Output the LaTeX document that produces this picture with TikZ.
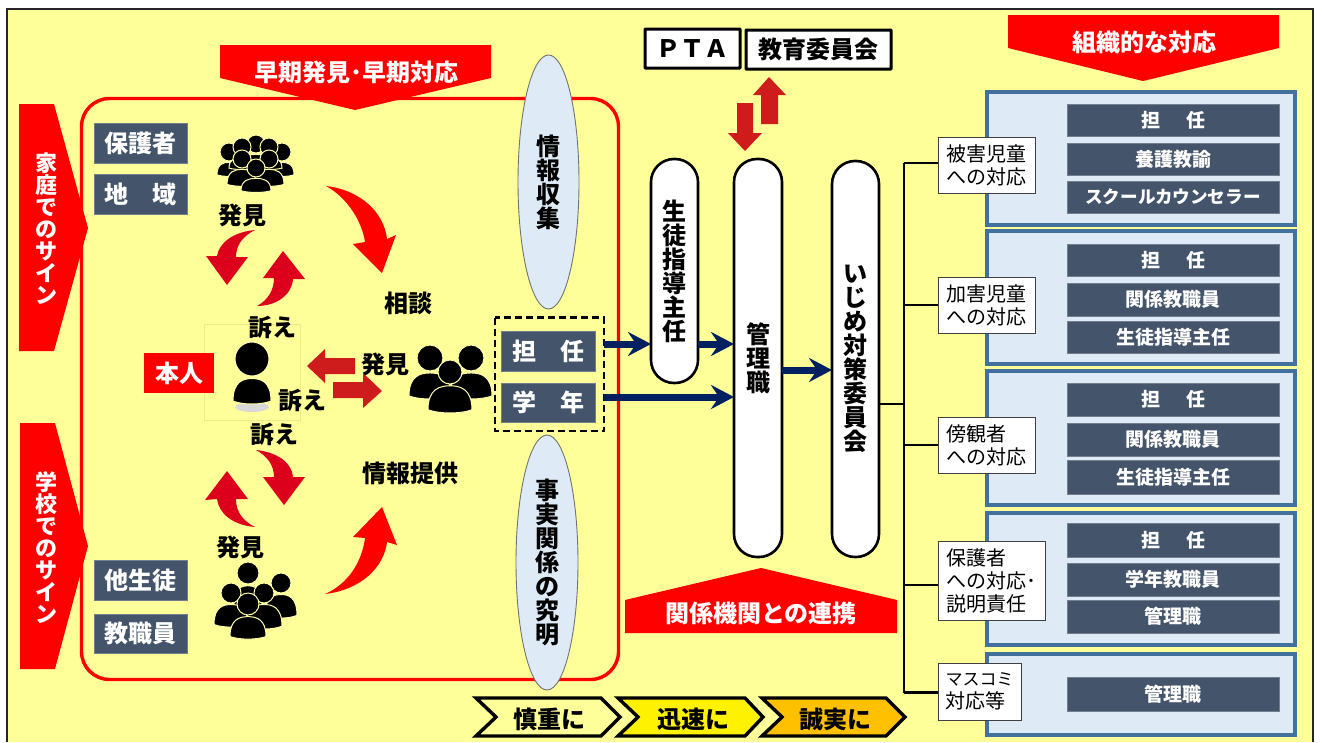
\documentclass[tikz,border=0pt]{standalone}
\usepackage{fontspec}
\setmainfont{Noto Sans CJK JP}
\usetikzlibrary{shapes.geometric,arrows.meta}
\definecolor{bgy}{HTML}{FFFF99}
\definecolor{slate}{HTML}{44546A}
\definecolor{pale}{HTML}{DEEBF7}
\definecolor{panelb}{HTML}{41719C}
\definecolor{navyb}{HTML}{002060}
\definecolor{crim}{HTML}{DC001C}
\definecolor{brick}{HTML}{CE1C1C}
\definecolor{amber}{HTML}{FFC000}
\newcommand{\fs}[1]{\fontsize{#1}{#1}\selectfont}
\newcommand{\bx}[7]{\pgfmathsetmacro\bxw{#5-#3}\pgfmathsetmacro\bxh{#6-#4}\pgfmathsetmacro\bxx{(#3+#5)/2}\pgfmathsetmacro\bxy{(#4+#6)/2}\node[#1,minimum width=\bxw pt,minimum height=\bxh pt] (#2) at (\bxx,\bxy) {#7};}
\newcommand{\bxs}[7]{\bx{#1}{#2}{#3}{#4}{#5}{#6}{\raisebox{-1.2pt}{#7}}}
\newcommand{\psn}[5]{%
 \pgfmathsetmacro\pt{#2+1.15*#3}\pgfmathsetmacro\pH{#5-\pt}%
 \draw[psnst] ({#1-#4},{#5-.15*\pH}) .. controls ({#1-#4},{\pt+.1*\pH}) and ({#1-.45*#4},\pt) .. (#1,\pt) .. controls ({#1+.45*#4},\pt) and ({#1+#4},{\pt+.1*\pH}) .. ({#1+#4},{#5-.15*\pH}) .. controls ({#1+.5*#4},#5) and ({#1-.5*#4},#5) .. cycle;
 \draw[psnst] (#1,#2) circle (#3pt);}
\tikzset{
 x=1pt,y=-1pt,
 every node/.style={inner sep=0pt,outer sep=0pt,align=center},
 slatebox/.style={fill=slate,draw=slate!75!white,line width=.6pt,text=white,font=\bfseries\fs{24}},
 innerbox/.style={fill=slate,draw=slate!75!white,line width=.6pt,text=white,font=\bfseries\fs{19}},
 panel/.style={fill=pale,draw=panelb,line width=3.6pt},
 lab/.style={fill=white,draw=black!75,line width=.8pt,font=\fs{20},align=left},
 pillb/.style={fill=white,draw=black,line width=2.6pt,rounded corners=23pt,font=\bfseries\fs{24}},
 ovalb/.style={ellipse,fill=pale,draw=black!55,line width=.9pt,font=\bfseries\fs{24}},
 tagb/.style={fill=white,draw=black,line width=3pt,rounded corners=.5pt,font=\bfseries\fs{24}},
 redf/.style={fill=red,draw=none},
 wht/.style={text=white,font=\bfseries\fs{24}},
 blk/.style={text=black,font=\bfseries\fs{24}},
 chev/.style={draw=black,line width=3.4pt,miter limit=8},
 chevt/.style={text=black,font=\bfseries\fs{24}},
 navyarr/.style={draw=navyb,line width=7pt,-{Stealth[length=23pt,width=24pt,inset=8pt]}},
 busl/.style={draw=black,line width=2.7pt},
 psnst/.style={fill=black,draw=bgy!80!white,line width=1pt},
}
\begin{document}
\begin{tikzpicture}
\useasboundingbox (0,0) rectangle (1322,742);
\fill[white] (0,0) rectangle (1322,742);
\fill[bgy] (7,9) rectangle (1313,742);
\draw[black!85,line width=1.4pt] (7,742) -- (7,9) -- (1313,9) -- (1313,742);

% big red frame
\draw[red,line width=3.4pt,rounded corners=28pt] (81.5,98.5) rectangle (618.5,679.5);

% left signs
\path[redf] (19,104) -- (54,104) -- (88,228) -- (54,351) -- (19,351) -- cycle;
\path[redf] (20,423) -- (55,423) -- (88,546) -- (55,669) -- (20,669) -- cycle;
\node[text=white,font=\bfseries\fs{22}] (signhome) at (46,229) {家\\庭\\で\\の\\サ\\イ\\ン};
\node[text=white,font=\bfseries\fs{22}] (signschool) at (46,548) {学\\校\\で\\の\\サ\\イ\\ン};

% top banner
\path[redf] (220,45) -- (491,45) -- (491,78) -- (355,110) -- (220,78) -- cycle;
\node[wht] (early) at (356,72) {早期発見･早期対応};

% grey boxes left
\bxs{slatebox}{parents}{94}{123}{187}{163}{保護者}
\bxs{slatebox}{region}{94}{174}{187}{214}{地\hspace{24pt}域}
\bxs{slatebox}{peers}{94}{560}{187}{600}{他生徒}
\bxs{slatebox}{staff}{94}{614}{187}{653}{教職員}

% people: top crowd
\psn{256}{144}{9}{13}{165}
\psn{229}{152}{9}{12}{177}
\psn{282}{152}{9}{12}{177}
\psn{242}{147}{9}{13}{170}
\psn{269}{147}{9}{13}{170}
\psn{242}{159}{9}{15}{187}
\psn{269}{159}{9}{15}{187}
\psn{256}{168}{9}{15}{193}
% bottom crowd
\psn{248}{573}{11}{14}{610}
\psn{281}{583}{10}{16}{619}
\psn{231}{593}{10}{17}{628}
\psn{264}{593}{10}{18}{630}
\psn{248}{604}{11}{18}{640}
% right trio
\psn{430}{358}{13}{21}{400}
\psn{471}{358}{13}{21}{400}
\psn{450}{372}{12}{22}{414}
% self
\draw[black!8!bgy,line width=.6pt] (204,324) rectangle (300,420);
\fill[black!15] (252,407) ellipse (17pt and 5pt);
\psn{252}{359}{17}{19}{405}
\bxs{fill=red,text=white,font=\bfseries\fs{24}}{self}{144}{353}{214}{393}{本人}

% curved arrows
\fill[red] (326,186) .. controls (360,190) and (384,212) .. (387,239) -- (396,235) -- (382,273) -- (353,244) -- (365,242) .. controls (362,222) and (348,198) .. cycle;
\fill[red] (325,594) .. controls (360,590) and (384,568) .. (387,542) -- (397,545) -- (382,507) -- (353,537) -- (365,538) .. controls (362,562) and (348,584) .. cycle;
\fill[crim] (255,230) .. controls (233,232) and (219,243) .. (217,256) -- (206,256) -- (227,285) -- (248,257) -- (236,257) .. controls (236,245) and (243,236) .. cycle;
\fill[crim] (257,306) .. controls (268,300) and (274,290) .. (274,278) -- (263,278) -- (283,251) -- (305,279) -- (293,279) .. controls (292,295) and (276,306) .. cycle;
\fill[crim] (256,450) .. controls (276,452) and (292,462) .. (293,477) -- (305,477) -- (284,505) -- (263,477) -- (274,477) .. controls (274,465) and (267,456) .. cycle;
\fill[crim] (255,527) .. controls (233,525) and (219,514) .. (217,499) -- (205,500) -- (227,471) -- (248,499) -- (236,499) .. controls (236,512) and (243,521) .. cycle;

% straight red arrows
\fill[brick] (307,366) -- (325,349) -- (325,358) -- (355,358) -- (355,374) -- (325,374) -- (325,383) -- cycle;
\fill[brick] (382,391) -- (363,373) -- (363,382) -- (333,382) -- (333,398) -- (363,398) -- (363,408) -- cycle;
\fill[brick] (769,77) -- (786,95) -- (778,95) -- (778,124) -- (761,124) -- (761,95) -- (753,95) -- cycle;
\fill[brick] (745,151) -- (762,133) -- (753,133) -- (753,103) -- (737,103) -- (737,133) -- (728,133) -- cycle;

% texts
\node[blk] (find1) at (242,215) {発見};
\node[blk] (appeal1) at (272,327) {訴え};
\node[blk] (consult) at (408,303) {相談};
\node[blk] (find2) at (385,364) {発見};
\node[blk] (appeal2) at (302,400) {訴え};
\node[blk] (appeal3) at (274,434) {訴え};
\node[blk] (inform) at (410,473) {情報提供};
\node[blk] (find3) at (240,547) {発見};

% ovals
\bx{ovalb}{collect}{518}{55}{579}{309}{情\\報\\収\\集}
\bx{ovalb}{facts}{516}{435}{578}{690}{事\\実\\関\\係\\の\\究\\明}

% dashed group
\draw[black,line width=2.6pt,dash pattern=on 7pt off 4pt] (495,317.5) rectangle (604,431);
\coordinate (dashr) at (604,374);
\bxs{slatebox}{tannin}{501}{331}{595}{371}{担\hspace{24pt}任}
\bxs{slatebox}{grade}{501}{383}{595}{422}{学\hspace{24pt}年}

% pills
\bx{pillb}{seito}{651}{159}{698}{383}{生\\徒\\指\\導\\主\\任}
\bx{pillb}{kanri}{734}{159}{782}{557}{管\\理\\職}
\bx{pillb}{ijime}{832}{161}{879}{557}{い\\じ\\め\\対\\策\\委\\員\\会}

% navy connectors
\coordinate (ya) at (0,344);
\coordinate (yb) at (0,397);
\coordinate (yc) at (0,370);
\draw[navyarr] (dashr |- ya) -- (seito.west |- ya);
\draw[navyarr] (seito.east |- ya) -- (kanri.west |- ya);
\draw[navyarr] (dashr |- yb) -- (kanri.west |- yb);
\draw[navyarr] (kanri.east |- yc) -- (ijime.west |- yc);

% top tags
\bxs{tagb}{pta}{645}{29}{740}{68}{ＰＴＡ}
\bxs{tagb}{board}{746}{30}{891}{69}{教育委員会}

% bottom banner
\path[redf] (625,633) -- (625,600) -- (761,568) -- (897,600) -- (897,633) -- cycle;
\node[wht] (liaison) at (761,613) {関係機関との連携};

% chevrons
\path[chev,fill=bgy] (476,698) -- (601,698) -- (620,717) -- (601,736) -- (476,736) -- (496,717) -- cycle;
\path[chev,fill=yellow] (618,698) -- (745,698) -- (763,717) -- (745,736) -- (618,736) -- (638,717) -- cycle;
\path[chev,fill=amber] (762,698) -- (886,698) -- (905,717) -- (886,736) -- (762,736) -- (782,717) -- cycle;
\node[chevt] (careful) at (549,719) {慎重に};
\node[chevt] (swift) at (693,719) {迅速に};
\node[chevt] (honest) at (835,719) {誠実に};

% right banner
\path[redf] (1008,15) -- (1279,15) -- (1279,48) -- (1143,81) -- (1008,48) -- cycle;
\node[wht] (org) at (1144,42) {組織的な対応};

% panels
\bx{panel}{pa}{987}{92}{1295}{225}{}
\bx{panel}{pb}{987}{231}{1295}{364}{}
\bx{panel}{pc}{987}{371}{1295}{505}{}
\bx{panel}{pd}{987}{513}{1295}{645}{}
\bx{panel}{pe}{987}{654}{1295}{735}{}

\bxs{innerbox}{a1}{1067}{104}{1279}{136}{担\hspace{26pt}任}
\bxs{innerbox}{a2}{1067}{143}{1279}{175}{養護教諭}
\bxs{innerbox,font=\bfseries\fs{17.6}}{a3}{1067}{181}{1279}{213}{スクールカウンセラー}
\bxs{innerbox}{b1}{1067}{244}{1279}{276}{担\hspace{26pt}任}
\bxs{innerbox}{b2}{1067}{283}{1279}{316}{関係教職員}
\bxs{innerbox}{b3}{1067}{321}{1279}{353}{生徒指導主任}
\bxs{innerbox}{c1}{1067}{383}{1279}{416}{担\hspace{26pt}任}
\bxs{innerbox}{c2}{1067}{423}{1279}{456}{関係教職員}
\bxs{innerbox}{c3}{1067}{460}{1279}{494}{生徒指導主任}
\bxs{innerbox}{d1}{1067}{523}{1279}{557}{担\hspace{26pt}任}
\bxs{innerbox}{d2}{1067}{563}{1279}{596}{学年教職員}
\bxs{innerbox}{d3}{1067}{600}{1279}{633}{管理職}
\bxs{innerbox}{e1}{1067}{677}{1279}{711}{管理職}

% labels
\bx{lab}{la}{938}{137}{1035}{193}{被害児童\\[3pt]への対応}
\bx{lab}{lb}{938}{277}{1035}{333}{加害児童\\[3pt]への対応}
\bx{lab}{lc}{938}{417}{1035}{473}{傍観者\\[3pt]への対応}
\bx{lab}{ld}{938}{541}{1045}{620}{保護者\\[3pt]への対応･\\[3pt]説明責任}
\bx{lab}{le}{938}{663}{1021}{720}{{\fs{17}マスコミ}\\[3pt]対応等}

% tree
\coordinate (bus) at (904,404);
\draw[busl] ([yshift=2pt]la.west -| bus) -- ([yshift=-1pt]le.west -| bus);
\draw[busl] (ijime.east |- bus) -- (bus);
\draw[busl] ([yshift=2pt]la.west -| bus) -- ([yshift=2pt]la.west);
\draw[busl] (lb.west -| bus) -- (lb.west);
\draw[busl] (lc.west -| bus) -- (lc.west);
\draw[busl] ([yshift=-4.5pt]ld.west -| bus) -- ([yshift=-4.5pt]ld.west);
\draw[busl] ([yshift=-1pt]le.west -| bus) -- ([yshift=-1pt]le.west);
\end{tikzpicture}
\end{document}
